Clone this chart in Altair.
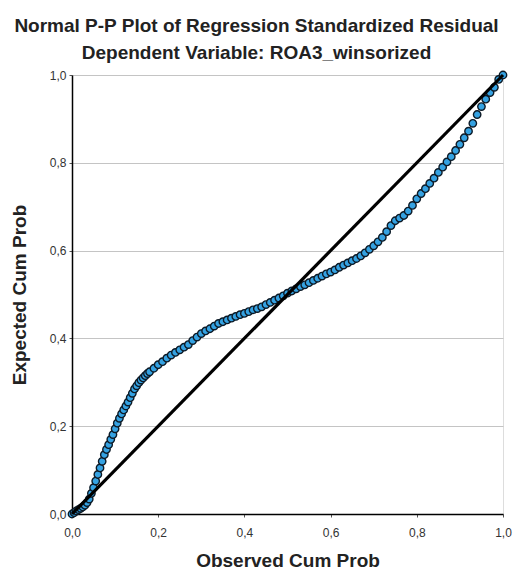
import altair as alt
import pandas as pd

observed = [0.000, 0.005, 0.010, 0.015, 0.020, 0.025, 0.030, 0.035, 0.040, 0.045,
            0.050, 0.055, 0.060, 0.065, 0.070, 0.075, 0.080, 0.085, 0.090, 0.095,
            0.100, 0.105, 0.110, 0.115, 0.120, 0.125, 0.130, 0.135, 0.140, 0.145,
            0.150, 0.155, 0.160, 0.165, 0.170, 0.175, 0.180, 0.19, 0.20, 0.21,
            0.22, 0.23, 0.24, 0.25, 0.26, 0.27, 0.28, 0.29, 0.30, 0.31,
            0.32, 0.33, 0.34, 0.35, 0.36, 0.37, 0.38, 0.39, 0.40, 0.41,
            0.42, 0.43, 0.44, 0.45, 0.46, 0.47, 0.48, 0.49, 0.50, 0.51,
            0.52, 0.53, 0.54, 0.55, 0.56, 0.57, 0.58, 0.59, 0.60, 0.61,
            0.62, 0.63, 0.64, 0.65, 0.66, 0.67, 0.68, 0.69, 0.70, 0.71,
            0.72, 0.73, 0.74, 0.75, 0.76, 0.77, 0.78, 0.79, 0.80, 0.81,
            0.82, 0.83, 0.84, 0.85, 0.86, 0.87, 0.88, 0.89, 0.90, 0.91,
            0.92, 0.93, 0.94, 0.95, 0.96, 0.97, 0.98, 0.99, 1.00]
expected = [0.000, 0.003, 0.007, 0.010, 0.013, 0.016, 0.020, 0.026, 0.034, 0.047,
            0.060, 0.075, 0.090, 0.105, 0.120, 0.135, 0.147, 0.158, 0.170, 0.181,
            0.194, 0.207, 0.218, 0.228, 0.237, 0.246, 0.255, 0.265, 0.275, 0.285,
            0.292, 0.299, 0.305, 0.310, 0.315, 0.320, 0.324, 0.332, 0.340, 0.347,
            0.355, 0.362, 0.368, 0.374, 0.380, 0.386, 0.395, 0.403, 0.411, 0.417,
            0.422, 0.428, 0.434, 0.438, 0.442, 0.446, 0.450, 0.454, 0.457, 0.461,
            0.465, 0.468, 0.472, 0.477, 0.482, 0.487, 0.492, 0.497, 0.503, 0.508,
            0.513, 0.518, 0.522, 0.527, 0.532, 0.537, 0.542, 0.547, 0.551, 0.556,
            0.562, 0.567, 0.572, 0.577, 0.582, 0.588, 0.595, 0.603, 0.611, 0.620,
            0.630, 0.643, 0.657, 0.668, 0.674, 0.680, 0.690, 0.703, 0.718, 0.730,
            0.741, 0.753, 0.765, 0.778, 0.790, 0.802, 0.814, 0.828, 0.842, 0.857,
            0.872, 0.890, 0.910, 0.928, 0.945, 0.960, 0.972, 0.990, 1.000]

ref_x = [0.0, 1.0]
ref_y = [0.0, 1.0]
ticks = [0.0, 0.2, 0.4, 0.6, 0.8, 1.0]

pts = pd.DataFrame({"obs": observed, "exp": expected})
ref = pd.DataFrame({"obs": ref_x, "exp": ref_y})

FONT = "Liberation Sans"
label_expr = "replace(format(datum.value, '.1f'), '.', ',')"

xscale = alt.Scale(domain=[0, 1], nice=False, zero=False)
yscale = alt.Scale(domain=[0, 1], nice=False, zero=False)

xaxis = alt.Axis(values=ticks, labelExpr=label_expr, title="Observed Cum Prob",
                 grid=False, domain=True, domainColor="black", domainWidth=1.5,
                 ticks=True, tickSize=3, tickColor="#555", labelFontSize=12,
                 labelColor="#333", labelFont=FONT, labelPadding=10,
                 labelFlush=False, labelOverlap=False,
                 titleFont=FONT, titleFontSize=19, titleFontWeight="bold",
                 titleColor="#222", titlePadding=13)
yaxis = alt.Axis(values=ticks, labelExpr=label_expr, title="Expected Cum Prob",
                 grid=True, gridColor="#c4c4c4", gridWidth=1.2,
                 domain=True, domainColor="black", domainWidth=1.5,
                 ticks=True, tickSize=3, tickColor="#555", labelFontSize=12,
                 labelColor="#333", labelFont=FONT, labelPadding=3,
                 labelFlush=False, labelOverlap=False,
                 titleFont=FONT, titleFontSize=19, titleFontWeight="bold",
                 titleColor="#222", titlePadding=20)

points = alt.Chart(pts).mark_circle(
    size=55, color="#35a2e2", opacity=1, stroke="#0d1a26", strokeWidth=1.4
).encode(
    x=alt.X("obs:Q", scale=xscale, axis=xaxis),
    y=alt.Y("exp:Q", scale=yscale, axis=yaxis),
)

line = alt.Chart(ref).mark_line(color="black", strokeWidth=3.2).encode(
    x=alt.X("obs:Q", scale=xscale),
    y=alt.Y("exp:Q", scale=yscale),
)

chart = alt.layer(points, line).properties(
    width=431,
    height=439,
    autosize="none",
    padding={"left": 64, "top": 67, "right": 10, "bottom": 60},
    title=alt.TitleParams(
        text="Normal P-P Plot of Regression Standardized Residual",
        subtitle="Dependent Variable: ROA3_winsorized",
        anchor="middle",
        frame="group",
        dx=-31,
        font=FONT,
        fontSize=19,
        fontWeight="bold",
        color="#222",
        subtitleFont=FONT,
        subtitleFontSize=19,
        subtitleFontWeight="bold",
        subtitleColor="#222",
        subtitlePadding=8,
        offset=5,
    ),
).configure_view(stroke=None).configure(background="white")

chart.save("out.html", embed_options={"renderer": "svg", "actions": False})
